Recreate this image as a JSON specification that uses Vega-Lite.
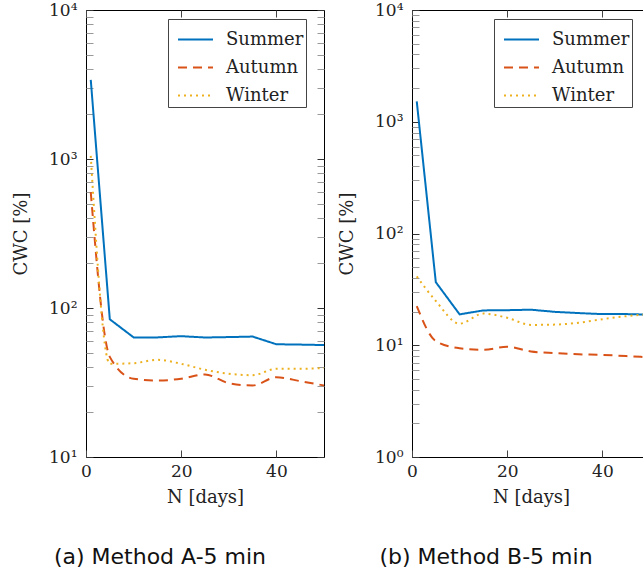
{
  "$schema": "https://vega.github.io/schema/vega-lite/v6.json",
  "background": "white",
  "padding": {"left": 12, "top": 0, "right": 0, "bottom": 0},
  "spacing": 13,
  "config": {
    "view": {"stroke": "black", "strokeWidth": 1, "fill": null},
    "axis": {
      "labelFont": "DejaVu Serif", "labelFontSize": 17, "labelColor": "#222",
      "titleFont": "DejaVu Serif", "titleFontSize": 18, "titleFontWeight": "normal", "titleColor": "#222",
      "grid": false, "domain": false, "ticks": true, "tickColor": "#444", "tickWidth": 1, "tickSize": 7, "offset": -7, "zindex": 1,
      "labelOverlap": false, "labelBound": false, "labelFlush": false
    },
    "legend": {
      "labelFont": "DejaVu Serif", "labelFontSize": 18, "labelColor": "#222",
      "strokeColor": "#444", "fillColor": "white", "padding": 2, "rowPadding": 0,
      "symbolType": "stroke", "symbolSize": 1225, "symbolStrokeWidth": 2, "labelOffset": 12, "symbolOffset": 7,
      "labelExpr": "datum.label + '\u00a0\u00a0'"
    },
    "title": {"font": "DejaVu Sans", "fontSize": 22, "fontWeight": "normal", "color": "#111"}
  },
  "datasets": {
    "a": [
      {"season": "Summer", "N": 1, "CWC": 3400}, {"season": "Summer", "N": 5, "CWC": 84}, {"season": "Summer", "N": 10, "CWC": 63.5},
      {"season": "Summer", "N": 15, "CWC": 63.5}, {"season": "Summer", "N": 20, "CWC": 64.7}, {"season": "Summer", "N": 25, "CWC": 63.4},
      {"season": "Summer", "N": 30, "CWC": 63.8}, {"season": "Summer", "N": 35, "CWC": 64.3}, {"season": "Summer", "N": 40, "CWC": 57.1},
      {"season": "Summer", "N": 45, "CWC": 56.8}, {"season": "Summer", "N": 50, "CWC": 56.4},
      {"season": "Autumn", "N": 1, "CWC": 600}, {"season": "Autumn", "N": 5, "CWC": 47}, {"season": "Autumn", "N": 10, "CWC": 33.5},
      {"season": "Autumn", "N": 15, "CWC": 32.6}, {"season": "Autumn", "N": 20, "CWC": 33.5}, {"season": "Autumn", "N": 25, "CWC": 35.8},
      {"season": "Autumn", "N": 30, "CWC": 31.3}, {"season": "Autumn", "N": 35, "CWC": 30.2}, {"season": "Autumn", "N": 40, "CWC": 34.3},
      {"season": "Autumn", "N": 45, "CWC": 32.3}, {"season": "Autumn", "N": 50, "CWC": 30.2},
      {"season": "Winter", "N": 1, "CWC": 1050}, {"season": "Winter", "N": 5, "CWC": 42.2}, {"season": "Winter", "N": 10, "CWC": 42.6},
      {"season": "Winter", "N": 15, "CWC": 44.9}, {"season": "Winter", "N": 20, "CWC": 42.2}, {"season": "Winter", "N": 25, "CWC": 38.5},
      {"season": "Winter", "N": 30, "CWC": 36.2}, {"season": "Winter", "N": 35, "CWC": 35.4}, {"season": "Winter", "N": 40, "CWC": 39.1},
      {"season": "Winter", "N": 45, "CWC": 39.1}, {"season": "Winter", "N": 50, "CWC": 39.5}
    ],
    "b": [
      {"season": "Summer", "N": 1, "CWC": 1520}, {"season": "Summer", "N": 5, "CWC": 36.7}, {"season": "Summer", "N": 10, "CWC": 18.9},
      {"season": "Summer", "N": 15, "CWC": 20.5}, {"season": "Summer", "N": 20, "CWC": 20.6}, {"season": "Summer", "N": 25, "CWC": 20.8},
      {"season": "Summer", "N": 30, "CWC": 19.9}, {"season": "Summer", "N": 35, "CWC": 19.4}, {"season": "Summer", "N": 40, "CWC": 19.0},
      {"season": "Summer", "N": 45, "CWC": 19.0}, {"season": "Summer", "N": 50, "CWC": 18.8},
      {"season": "Autumn", "N": 1, "CWC": 22.4}, {"season": "Autumn", "N": 5, "CWC": 10.9}, {"season": "Autumn", "N": 10, "CWC": 9.4},
      {"season": "Autumn", "N": 15, "CWC": 9.1}, {"season": "Autumn", "N": 20, "CWC": 9.7}, {"season": "Autumn", "N": 25, "CWC": 8.8},
      {"season": "Autumn", "N": 30, "CWC": 8.5}, {"season": "Autumn", "N": 35, "CWC": 8.3}, {"season": "Autumn", "N": 40, "CWC": 8.2},
      {"season": "Autumn", "N": 45, "CWC": 8.0}, {"season": "Autumn", "N": 50, "CWC": 7.8},
      {"season": "Winter", "N": 1, "CWC": 41.3}, {"season": "Winter", "N": 5, "CWC": 24.9}, {"season": "Winter", "N": 10, "CWC": 15.6},
      {"season": "Winter", "N": 15, "CWC": 19.2}, {"season": "Winter", "N": 20, "CWC": 17.6}, {"season": "Winter", "N": 25, "CWC": 15.2},
      {"season": "Winter", "N": 30, "CWC": 15.3}, {"season": "Winter", "N": 35, "CWC": 15.9}, {"season": "Winter", "N": 40, "CWC": 17.1},
      {"season": "Winter", "N": 45, "CWC": 18.2}, {"season": "Winter", "N": 50, "CWC": 19.0}
    ]
  },
  "resolve": {
    "scale": {"color": "independent", "strokeDash": "independent", "x": "independent", "y": "independent"},
    "legend": {"color": "independent", "strokeDash": "independent"}
  },
  "hconcat": [
    {
      "width": 238, "height": 447,
      "title": {"text": "(a) Method A-5 min", "orient": "bottom", "anchor": "middle", "dx": -45, "offset": 41},
      "data": {"name": "a"},
      "encoding": {
        "x": {"field": "N", "type": "quantitative", "title": "N [days]", "scale": {"domain": [0, 50], "nice": false},
          "axis": {"values": [0, 20, 40], "labelPadding": 6, "titlePadding": 9}},
        "y": {"field": "CWC", "type": "quantitative", "title": "CWC [%]", "scale": {"type": "log", "domain": [10, 10000], "nice": false},
          "axis": {"values": [10,20,30,40,50,60,70,80,90,100,200,300,400,500,600,700,800,900,1000,2000,3000,4000,5000,6000,7000,8000,9000,10000],
            "labelExpr": "abs(log(datum.value)/LN10 - round(log(datum.value)/LN10)) < 1e-6 ? '10' + ['⁰','¹','²','³','⁴'][round(log(datum.value)/LN10)] : ''",
            "tickColor": {"condition": {"test": "abs(log(datum.value)/LN10 - round(log(datum.value)/LN10)) < 1e-6", "value": "#333"}, "value": "#999"},
            "labelPadding": 9, "titlePadding": 18}},
        "color": {"field": "season", "type": "nominal", "title": null,
          "scale": {"domain": ["Summer", "Autumn", "Winter"], "range": ["#0072BD", "#D95319", "#EDB120"]},
          "legend": {"orient": "none", "legendX": 82, "legendY": 9}},
        "strokeDash": {"field": "season", "type": "nominal", "title": null,
          "scale": {"domain": ["Summer", "Autumn", "Winter"], "range": [[1, 0], [9, 6], [2, 4]]},
          "legend": {"orient": "none", "legendX": 82, "legendY": 9}}
      },
      "layer": [
        {"transform": [{"filter": "datum.season == 'Summer'"}], "mark": {"type": "line", "strokeWidth": 2, "clip": true}},
        {"transform": [{"filter": "datum.season != 'Summer'"}], "mark": {"type": "line", "strokeWidth": 2, "interpolate": "monotone", "clip": true},
          "encoding": {
            "x": {"field": "N", "type": "quantitative", "scale": {"domain": [0, 50], "nice": false},
              "axis": {"orient": "top", "values": [0, 20, 40], "labels": false, "title": null}},
            "y": {"field": "CWC", "type": "quantitative", "scale": {"type": "log", "domain": [10, 10000], "nice": false},
              "axis": {"orient": "right", "values": [10,20,30,40,50,60,70,80,90,100,200,300,400,500,600,700,800,900,1000,2000,3000,4000,5000,6000,7000,8000,9000,10000],
                "tickColor": {"condition": {"test": "abs(log(datum.value)/LN10 - round(log(datum.value)/LN10)) < 1e-6", "value": "#333"}, "value": "#999"},
                "labels": false, "title": null}}
          }}
      ],
      "resolve": {"axis": {"x": "independent", "y": "independent"}}
    },
    {
      "width": 238, "height": 447,
      "title": {"text": "(b) Method B-5 min", "orient": "bottom", "anchor": "middle", "dx": -45, "offset": 41},
      "data": {"name": "b"},
      "encoding": {
        "x": {"field": "N", "type": "quantitative", "title": "N [days]", "scale": {"domain": [0, 50], "nice": false},
          "axis": {"values": [0, 20, 40], "labelPadding": 6, "titlePadding": 9}},
        "y": {"field": "CWC", "type": "quantitative", "title": "CWC [%]", "scale": {"type": "log", "domain": [1, 10000], "nice": false},
          "axis": {"values": [1,2,3,4,5,6,7,8,9,10,20,30,40,50,60,70,80,90,100,200,300,400,500,600,700,800,900,1000,2000,3000,4000,5000,6000,7000,8000,9000,10000],
            "labelExpr": "abs(log(datum.value)/LN10 - round(log(datum.value)/LN10)) < 1e-6 ? '10' + ['⁰','¹','²','³','⁴'][round(log(datum.value)/LN10)] : ''",
            "tickColor": {"condition": {"test": "abs(log(datum.value)/LN10 - round(log(datum.value)/LN10)) < 1e-6", "value": "#333"}, "value": "#999"},
            "labelPadding": 9, "titlePadding": 18}},
        "color": {"field": "season", "type": "nominal", "title": null,
          "scale": {"domain": ["Summer", "Autumn", "Winter"], "range": ["#0072BD", "#D95319", "#EDB120"]},
          "legend": {"orient": "none", "legendX": 82, "legendY": 9}},
        "strokeDash": {"field": "season", "type": "nominal", "title": null,
          "scale": {"domain": ["Summer", "Autumn", "Winter"], "range": [[1, 0], [9, 6], [2, 4]]},
          "legend": {"orient": "none", "legendX": 82, "legendY": 9}}
      },
      "layer": [
        {"transform": [{"filter": "datum.season == 'Summer'"}], "mark": {"type": "line", "strokeWidth": 2, "clip": true}},
        {"transform": [{"filter": "datum.season != 'Summer'"}], "mark": {"type": "line", "strokeWidth": 2, "interpolate": "monotone", "clip": true},
          "encoding": {
            "x": {"field": "N", "type": "quantitative", "scale": {"domain": [0, 50], "nice": false},
              "axis": {"orient": "top", "values": [0, 20, 40], "labels": false, "title": null}},
            "y": {"field": "CWC", "type": "quantitative", "scale": {"type": "log", "domain": [1, 10000], "nice": false},
              "axis": {"orient": "right", "values": [1,2,3,4,5,6,7,8,9,10,20,30,40,50,60,70,80,90,100,200,300,400,500,600,700,800,900,1000,2000,3000,4000,5000,6000,7000,8000,9000,10000],
                "tickColor": {"condition": {"test": "abs(log(datum.value)/LN10 - round(log(datum.value)/LN10)) < 1e-6", "value": "#333"}, "value": "#999"},
                "labels": false, "title": null}}
          }}
      ],
      "resolve": {"axis": {"x": "independent", "y": "independent"}}
    }
  ]
}
